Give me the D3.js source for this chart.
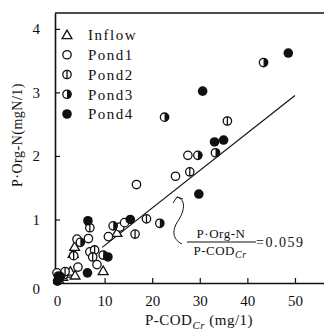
<!DOCTYPE html>
<html>
<head>
<meta charset="utf-8">
<script src="https://cdn.jsdelivr.net/npm/d3@7"></script>
<style>
  body { margin: 0; background: #fff; }
  svg text { font-family: "Liberation Serif", "DejaVu Serif", serif; fill: #111; }
</style>
</head>
<body>
<div id="chart"></div>
<script>
// --- data: [P-CODcr, P-Org-N] ---
const inflow = [[0.4,0.05],[1.2,0.1],[2.3,0.15],[2.8,0.18],[3.8,0.12],[3.4,0.46],[3.7,0.57],[9.7,0.19],[12.6,0.79]];
const pond1 = [[0,0.16],[1.4,0.13],[4.4,0.25],[4.2,0.69],[6.6,0.7],[6.9,0.49],[8.4,0.29],[10.8,0.73],[13.2,0.88],[14.2,0.95],[16.7,1.55],[24.9,1.68],[27.5,2.01]];
const pond2 = [[1.7,0.18],[3.5,0.43],[6.9,0.87],[7.9,0.52],[7.5,0.41],[16.4,0.77],[18.8,1.01],[27.9,1.75],[35.8,2.55]];
const pond3 = [[0.7,0.1],[4.9,0.64],[9.7,0.44],[11.8,0.9],[21.6,0.94],[22.6,2.61],[29.6,2.01],[33.3,2.05],[43.4,3.47]];
const pond4 = [[0.1,0.03],[0.3,0.11],[6.4,0.16],[6.5,0.98],[10.7,0.41],[15.4,1.0],[29.8,1.4],[30.6,3.02],[33.1,2.22],[35,2.25],[48.6,3.62]];

const seriesNames = ["Inflow", "Pond1", "Pond2", "Pond3", "Pond4"];
const xTicks = [0, 10, 20, 30, 40, 50];
const yTicks = [0, 1, 2, 3, 4];
const slope = 0.059;
const fitRange = [9.5, 50];

(function(){
const W = 324, H = 330;
const x = d3.scaleLinear().domain([-0.42, 56.1]).range([55, 324]);
const y = d3.scaleLinear().domain([0, 4.25]).range([283, 13]);

const svg = d3.select("#chart").append("svg")
    .attr("width", W).attr("height", H);

// --- frame ---
svg.append("line").attr("x1", 55).attr("x2", W).attr("y1", 13).attr("y2", 13)
    .attr("stroke", "#111").attr("stroke-width", 1.6);

svg.append("g")
    .attr("transform", `translate(0,${y(0)})`)
    .call(d3.axisBottom(x).tickValues(xTicks).tickFormat(d3.format("d"))
        .tickSizeInner(-5).tickSizeOuter(0).tickPadding(12))
    .call(g => g.select(".domain").attr("stroke", "#111").attr("stroke-width", 1.6))
    .call(g => g.selectAll(".tick line").attr("stroke", "#111").attr("stroke-width", 1.2))
    .call(g => g.selectAll(".tick text").style("font-size", "15px").attr("font-family", null));

svg.append("g")
    .attr("transform", `translate(${x.range()[0]},0)`)
    .call(d3.axisLeft(y).tickValues(yTicks).tickFormat(d3.format("d"))
        .tickSizeInner(-5).tickSizeOuter(0).tickPadding(15))
    .call(g => g.select(".domain").attr("stroke", "#111").attr("stroke-width", 1.6))
    .call(g => g.selectAll(".tick line").attr("stroke", "#111").attr("stroke-width", 1.2))
    .call(g => g.selectAll(".tick text").style("font-size", "15px").attr("font-family", null)
        .attr("dy", d => d === 0 ? "0.72em" : "0.32em"));

// --- axis titles ---
const xt = svg.append("text").attr("x", 199).attr("y", 325)
    .attr("text-anchor", "middle").style("font-size", "15px").style("letter-spacing", "0.5px");
xt.append("tspan").text("P-COD");
xt.append("tspan").attr("dy", 4).style("font-size", "11px").style("font-style", "italic").text("Cr");
xt.append("tspan").attr("dy", -4).text(" (mg/1)");

svg.append("text")
    .attr("transform", "translate(22,135) rotate(-90)")
    .attr("text-anchor", "middle").style("font-size", "14px").style("letter-spacing", "0.5px")
    .text("P·Org-N(mgN/1)");

// --- regression line ---
svg.append("line")
    .attr("x1", x(fitRange[0])).attr("y1", y(fitRange[0] * slope))
    .attr("x2", x(fitRange[1])).attr("y2", y(fitRange[1] * slope))
    .attr("stroke", "#111").attr("stroke-width", 1.2);

// --- markers ---
function marker(g, type) {
    const r = 4.2;
    if (type === "Inflow") {
        g.append("path").attr("d", d3.symbol(d3.symbolTriangle, 42)())
            .attr("transform", "translate(0,0.8)")
            .attr("fill", "#fff").attr("stroke", "#111").attr("stroke-width", 1.3);
    } else if (type === "Pond1") {
        g.append("circle").attr("r", r).attr("fill", "#fff").attr("stroke", "#111").attr("stroke-width", 1.3);
    } else if (type === "Pond2") {
        g.append("circle").attr("r", r).attr("fill", "#fff").attr("stroke", "#111").attr("stroke-width", 1.3);
        g.append("line").attr("y1", -r).attr("y2", r).attr("stroke", "#111").attr("stroke-width", 1.3);
    } else if (type === "Pond3") {
        g.append("circle").attr("r", r).attr("fill", "#fff").attr("stroke", "#111").attr("stroke-width", 1.3);
        g.append("path").attr("d", d3.arc()({innerRadius: 0, outerRadius: r, startAngle: 0, endAngle: Math.PI}))
            .attr("fill", "#111");
    } else {
        g.append("circle").attr("r", r + 0.6).attr("fill", "#111");
    }
}

const allSeries = [inflow, pond1, pond2, pond3, pond4];
allSeries.forEach((data, i) => {
    svg.append("g").selectAll("g")
        .data(data)
        .join("g")
        .attr("transform", d => `translate(${x(d[0])},${y(d[1])})`)
        .each(function() { marker(d3.select(this), seriesNames[i]); });
});

// --- legend ---
const legendY = d3.scalePoint().domain(seriesNames).range([35, 114]);
const lg = svg.append("g");
seriesNames.forEach(name => {
    const row = lg.append("g").attr("transform", `translate(67,${legendY(name)})`);
    marker(row, name);
    row.append("text").attr("x", 21).attr("dy", "0.35em")
        .style("font-size", "15px").style("letter-spacing", "1.5px").text(name);
});

// --- annotation ---
svg.append("path")
    .attr("d", "M177,197 C187,200 184,212 178,221 C172,230 172,239 182,244")
    .attr("fill", "none").attr("stroke", "#111").attr("stroke-width", 1);
svg.append("path")
    .attr("d", "M173,203 L177,197 L183,199")
    .attr("fill", "none").attr("stroke", "#111").attr("stroke-width", 1);

const ann = svg.append("g").style("font-size", "13px");
ann.append("text").attr("x", 221).attr("y", 238).attr("text-anchor", "middle")
    .style("letter-spacing", "0.5px").text("P·Org-N");
ann.append("line").attr("x1", 187).attr("x2", 256).attr("y1", 242).attr("y2", 242)
    .attr("stroke", "#111").attr("stroke-width", 1);
const den = ann.append("text").attr("x", 220).attr("y", 255).attr("text-anchor", "middle")
    .style("letter-spacing", "0.5px");
den.append("tspan").text("P-COD");
den.append("tspan").attr("dy", 3).style("font-size", "10px").style("font-style", "italic").text("Cr");
ann.append("text").attr("x", 256).attr("y", 247).style("letter-spacing", "1.5px")
    .style("font-size", "14px").text("=0.059");
})();
</script>
</body>
</html>
